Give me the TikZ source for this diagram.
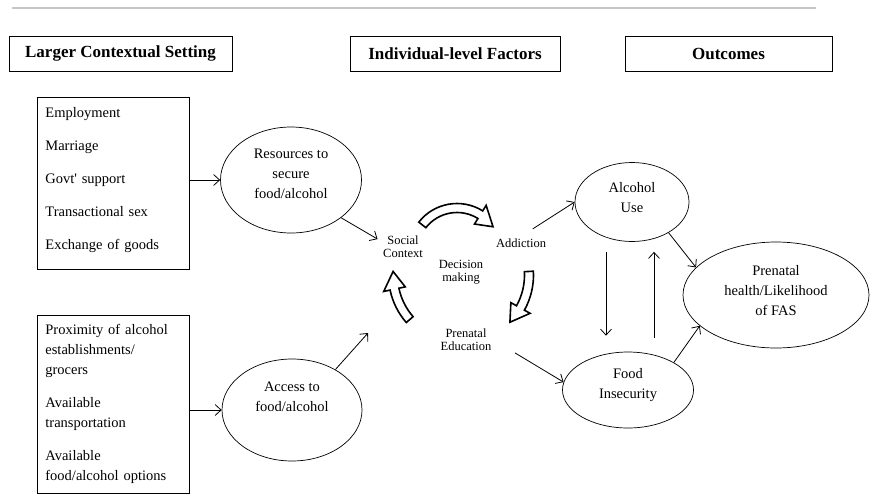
\documentclass[tikz,border=0pt]{standalone}
\usepackage{fontspec}
\setmainfont{Liberation Serif}
\usepackage{tikz}
\usetikzlibrary{shapes.geometric, arrows.meta}

\newcommand{\bentarrow}[5]{%
  \begin{scope}[shift={#1}, yscale=-1]
    \draw[bent] (#3:#2+4.5) arc[start angle=#3, end angle=#5, radius=#2+4.5]
      -- (#5:#2+11) -- (#4:#2) -- (#5:#2-11) -- (#5:#2-4.5)
      arc[start angle=#5, end angle=#3, radius=#2-4.5] -- cycle;
  \end{scope}}

\begin{document}
\begin{tikzpicture}[x=1pt, y=-1pt,
  >={Straight Barb[length=6pt,width=11pt]},
  header/.style={draw, line width=0.8pt, minimum height=35pt, font=\fontsize{17}{20}\selectfont\bfseries},
  envbox/.style={draw, line width=0.8pt, anchor=north west, text width=136pt, inner xsep=8pt, inner ysep=0pt, align=left, font=\fontsize{14.5}{20}\selectfont},
  factor/.style={draw, ellipse, line width=0.7pt, inner sep=0pt, align=center, font=\fontsize{14.5}{20}\selectfont},
  cycletext/.style={align=center, inner sep=2pt, font=\fontsize{12.5}{13}\selectfont},
  link/.style={->, line width=0.8pt},
  bent/.style={draw, line width=1.6pt, fill=white, line join=miter}]
  \useasboundingbox (0,0) rectangle (890,498);
  \draw[gray!45, line width=1.2pt] (12,8) -- (816,8);

  \node[header, minimum width=223pt] (setting) at (120.5,53.5) {Larger Contextual Setting};
  \node[header, minimum width=210pt] (individual) at (455,53.5) {Individual-level Factors};
  \node[header, minimum width=207pt] (outcomes) at (728.5,53.5) {Outcomes};

  \node[envbox, text height=20pt, text depth=152pt] (env1) at (37,97) {Employment\\[13pt]Marriage\\[13pt]Govt\textquotesingle{} support\\[13pt]Transactional sex\\[13pt]Exchange of goods};
  \node[envbox, text height=19pt, text depth=159pt] (env2) at (37,315) {Proximity of alcohol\\establishments/\\grocers\\[13pt]Available\\transportation\\[13pt]Available\\food/alcohol options};

  \node[factor, minimum width=141pt, minimum height=106pt, text depth=13pt] (res) at (291,180) {Resources to\\secure\\food/alcohol};
  \node[factor, minimum width=140pt, minimum height=102pt, text depth=27pt] (acc) at (292,410) {Access to\\food/alcohol};
  \node[factor, minimum width=114pt, minimum height=79pt, text depth=10pt] (alc) at (632,202) {Alcohol\\Use};
  \node[factor, minimum width=131pt, minimum height=76pt, text depth=14pt] (food) at (628,390) {Food\\Insecurity};
  \node[factor, minimum width=186pt, minimum height=106pt, text depth=10pt] (pre) at (776,295) {Prenatal\\health/Likelihood\\of FAS};

  \node[cycletext] (social) at (403,247) {Social\\Context};
  \node[cycletext] (addict) at (521,243) {Addiction};
  \node[cycletext] (decide) at (461,272) {Decision\\making};
  \node[cycletext] (prened) at (466,340) {Prenatal\\Education};
  \coordinate (cyclein) at (368,333);

  \bentarrow{(457,252)}{44}{142}{35}{58}
  \bentarrow{(461,275)}{68}{3}{-44}{-29}
  \bentarrow{(461,275)}{68}{221}{177}{192}

  \draw[link] (env1.east |- res.west) -- (res.west);
  \draw[link] (env2.east |- acc.west) -- (acc.west);
  \draw[link, shorten >=4pt] (res.-37) -- (social.165);
  \draw[link] (acc.43) -- (cyclein);
  \draw[link, shorten <=14pt] (addict.north) -- (alc.west);
  \draw[link, shorten <=25pt] (prened.east) -- (food.173);
  \draw[link, shorten <=10pt, shorten >=16pt] ([xshift=-26pt]alc.south) -- ([xshift=-22pt]food.north);
  \draw[link, shorten <=14pt, shorten >=10pt] ([xshift=26pt]food.north) -- ([xshift=22pt]alc.south);
  \draw[link] (alc.-40) -- (pre.161);
  \draw[link] (food.31) -- (pre.202);
\end{tikzpicture}
\end{document}
